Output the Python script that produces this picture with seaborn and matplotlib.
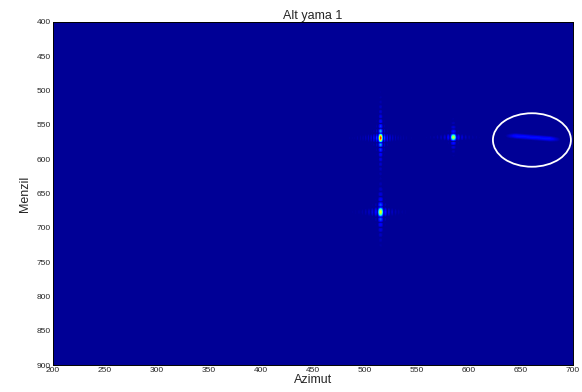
import numpy as np
import pandas as pd
import matplotlib
matplotlib.use("Agg")
import matplotlib.pyplot as plt
from matplotlib.patches import Ellipse
import seaborn as sns

# axis ranges / ticks
x_ticks = [200, 250, 300, 350, 400, 450, 500, 550, 600, 650, 700]
y_ticks = [400, 450, 500, 550, 600, 650, 700, 750, 800, 850, 900]
title = "Alt yama 1"
xlabel = "Azimut"
ylabel = "Menzil"

# point targets (azimut, menzil, peak level)
target_az = [515, 515, 585]
target_rg = [569, 677, 568]
target_amp = [0.90, 0.66, 0.62]
target_az_w = [2.6, 3.2, 3.4]
target_rg_w = [7.0, 7.5, 6.0]
target_tail = [0.6, 0.6, 0.7]     # range sidelobe decay exponent
target_reach = [45, 40, 22]       # range sidelobe envelope (menzil units)

# faint extended target (inside the white ellipse)
streak_az = [643, 685]
streak_rg = [566, 571]
streak_amp = 0.14

background = 0.02

# ellipse around the extended target
ell_center = (660.5, 572)
ell_w, ell_h = 75, 78

sns.set_theme(style="white")
plt.rcParams['font.family'] = ['Liberation Sans', 'DejaVu Sans']

n_az, n_rg = 520, 343
az = np.linspace(200, 700, n_az + 1)
az = 0.5 * (az[1:] + az[:-1])
rg = np.linspace(400, 900, n_rg + 1)
rg = 0.5 * (rg[1:] + rg[:-1])
AZ, RG = np.meshgrid(az, rg)

img = np.full(AZ.shape, background)
for x0, y0, a, wx, wy, p, L in zip(target_az, target_rg, target_amp, target_az_w,
                                   target_rg_w, target_tail, target_reach):
    dx, dy = AZ - x0, RG - y0
    sx = np.abs(np.sinc(dx / wx))
    sy = np.abs(np.sinc(dy / wy)) ** p * np.exp(-np.abs(dy) / L)
    img = np.maximum(img, a * sx * sy)
    # weak azimuth sidelobe line
    img = np.maximum(img, 0.25 * a * np.abs(np.sinc(dy / (wy * 0.5))) *
                     np.abs(np.sinc(dx / wx)) ** 0.6 * np.exp(-np.abs(dx) / 20))

# extended target: line segment response
t = np.clip((AZ - streak_az[0]) / (streak_az[1] - streak_az[0]), 0, 1)
line_y = streak_rg[0] + t * (streak_rg[1] - streak_rg[0])
edge = np.clip(np.minimum(AZ - streak_az[0] + 10, streak_az[1] + 5 - AZ) / 12, 0, 1)
sresp = streak_amp * edge * np.exp(-((RG - line_y) / 3.5) ** 2)
img = np.maximum(img, sresp)

df = pd.DataFrame(img)

fig = plt.figure(figsize=(5.82, 3.92), dpi=100)
ax = fig.add_axes([53 / 582, 1 - 365 / 392, 520 / 582, 343 / 392])
sns.heatmap(df, ax=ax, cmap="jet", vmin=0, vmax=1, cbar=False,
            xticklabels=False, yticklabels=False, rasterized=True)

def xpos(v):
    return (v - 200) / 500 * n_az

def ypos(v):
    return (v - 400) / 500 * n_rg

ax.set_xticks([xpos(v) for v in x_ticks])
ax.set_xticklabels([str(v) for v in x_ticks], fontsize=6, rotation=0)
ax.set_yticks([ypos(v) for v in y_ticks])
ax.set_yticklabels([str(v) for v in y_ticks], fontsize=6, rotation=0)
ax.tick_params(direction="in", length=3, width=0.6, top=True, right=True,
               bottom=True, left=True, color="black", pad=1.5)
for s in ax.spines.values():
    s.set_visible(True)
    s.set_color("black")
    s.set_linewidth(0.7)

ax.add_patch(Ellipse((xpos(ell_center[0]), ypos(ell_center[1])),
                     ell_w / 500 * n_az, ell_h / 500 * n_rg,
                     fill=False, edgecolor="white", linewidth=1.3))

ax.set_title(title, fontsize=9, pad=2)
ax.set_xlabel(xlabel, fontsize=9, labelpad=0)
ax.set_ylabel(ylabel, fontsize=9, labelpad=4)

fig.savefig("out.png", dpi=100)
